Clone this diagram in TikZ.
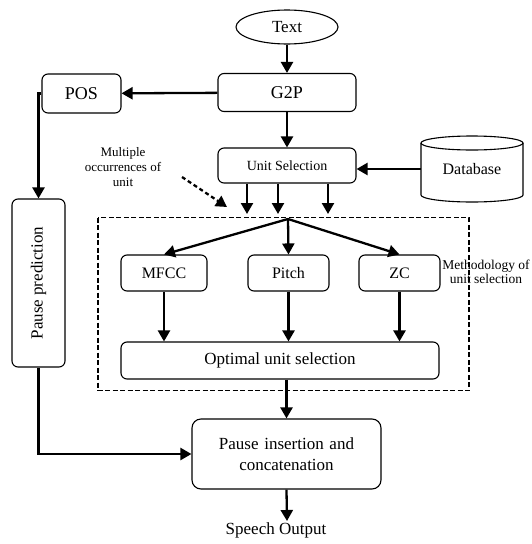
\documentclass[tikz,border=0pt]{standalone}
\usepackage{fontspec}
\setmainfont{Liberation Serif}
\usetikzlibrary{arrows.meta,shapes.geometric,calc}
\begin{document}
\begin{tikzpicture}[x=1pt,y=-1pt,
  box/.style={draw, line width=1.1pt, rounded corners=6pt, inner sep=0pt, align=center},
  arr/.style={line width=2.3pt, -{Triangle[length=11pt,width=12pt]}},
  f18/.style={font=\fontsize{18}{20}\selectfont},
  f17/.style={font=\fontsize{17}{21}\selectfont},
  f16/.style={font=\fontsize{16}{18}\selectfont},
  f14/.style={font=\fontsize{14}{15}\selectfont},
  f13/.style={font=\fontsize{13}{15}\selectfont}]
\useasboundingbox (0,0) rectangle (532,544);
% nodes
\node[draw, line width=1.1pt, ellipse, minimum width=102pt, minimum height=34pt, inner sep=0pt, f17] (text) at (287,27) {Text};
\node[box, minimum width=138pt, minimum height=38pt, f18] (g2p) at (287,92.5) {G2P};
\node[box, minimum width=79pt, minimum height=39pt, f18] (pos) at (81.5,93.5) {POS};
\node[box, minimum width=138pt, minimum height=35pt, f14] (unit) at (287,165.5) {Unit Selection};
\node[inner sep=0pt, minimum width=102pt, minimum height=66pt, f16] (db) at (472,169) {Database};
\draw[line width=1.1pt] (421,143) -- (421,195) arc[start angle=180, end angle=360, x radius=51pt, y radius=7pt] -- (523,143);
\draw[line width=1.1pt] (472,143) ellipse[x radius=51pt, y radius=7pt];
\node[box, minimum width=53pt, minimum height=168pt] (pp) at (38.5,283) {};
\node[f17, rotate=90] (pptext) at (pp.center) {Pause prediction};
\node[box, minimum width=86pt, minimum height=36pt, f16] (mfcc) at (164,273) {MFCC};
\node[box, minimum width=81pt, minimum height=36pt, f16] (pitch) at (288.5,273) {Pitch};
\node[box, minimum width=81pt, minimum height=36pt, f16] (zc) at (399.5,273) {ZC};
\node[box, minimum width=318pt, minimum height=37pt, f17] (opt) at (280,360.5) {Optimal unit selection};
\node[box, minimum width=189pt, minimum height=70pt, f17, text width=185pt, rounded corners=9pt] (pins) at (286.5,454) {Pause insertion and\\concatenation};
\node[f17, inner sep=1pt] (so) at (276,530) {Speech Output};
\node[f13, align=center, inner sep=0pt] (multi) at (123,167) {Multiple\\occurrences of\\unit};
\node[f14, align=center, inner sep=0pt, font=\fontsize{13.5}{14}\selectfont] (meth) at (486,271.5) {Methodology of\\unit selection};
% dashed region
\draw[line width=1.7pt, dash pattern=on 5pt off 2.5pt] (98,217.5) rectangle (469,390.5);
% coordinates
\coordinate (fan) at (288,219);
\coordinate (u1) at (247,214);
\coordinate (u2) at (278,214);
\coordinate (u3) at (328,214);
\coordinate (ds) at (182,177);
\coordinate (de) at (227,207);
\coordinate (sotip) at (287,521);
% connectors
\draw[arr] (text) -- (g2p);
\draw[arr] (g2p) -- (pos);
\draw[arr] (g2p) -- (unit);
\draw[arr] (db.west) -- (unit.east |- db.west);
\draw[arr] (u1 |- unit.south) -- (u1);
\draw[arr] (u2 |- unit.south) -- (u2);
\draw[arr] (u3 |- unit.south) -- (u3);
\draw[arr, dash pattern=on 4pt off 3pt] (ds) -- (de);
\draw[arr] (fan) -- (mfcc.north);
\draw[arr] (fan) -- (pitch.north);
\draw[arr] (fan) -- (zc.north);
\draw[arr] (mfcc.south) -- (mfcc.south |- opt.north);
\draw[arr] (pitch.south) -- (pitch.south |- opt.north);
\draw[arr] (zc.south) -- (zc.south |- opt.north);
\draw[arr] (pins.north |- opt.south) -- (pins.north);
\draw[arr] (pins.south) -- (sotip);
\draw[arr] (pos.west) -- (pos.west -| pp.north) -- (pp.north);
\draw[arr] (pp.south) |- (pins.west);
\end{tikzpicture}
\end{document}
